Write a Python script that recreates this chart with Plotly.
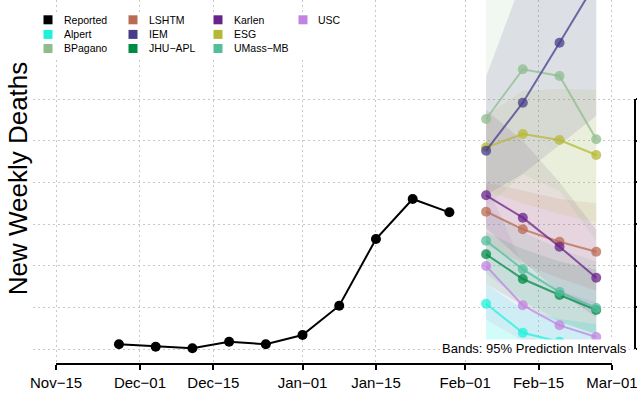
import plotly.graph_objects as go

# ---------------- data ----------------
reported_dates = ["2021-11-27", "2021-12-04", "2021-12-11", "2021-12-18", "2021-12-25",
                  "2022-01-01", "2022-01-08", "2022-01-15", "2022-01-22", "2022-01-29"]
reported = [56, 28, 8, 88, 56, 168, 520, 1320, 1800, 1640]

forecast_dates = ["2022-02-05", "2022-02-12", "2022-02-19", "2022-02-26"]

models = ["Alpert", "USC", "JHU-APL", "UMass-MB", "LSHTM", "Karlen", "ESG", "BPagano", "IEM"]
colors = {
    "Reported": "#000000", "Alpert": "#1FF2DC", "BPagano": "#8FBC8F",
    "LSHTM": "#BA6B53", "IEM": "#473C8B", "JHU-APL": "#008B45",
    "Karlen": "#68228B", "ESG": "#B5B834", "UMass-MB": "#52BE9C", "USC": "#C084E0",
}

median = {
    "Alpert":   [544, 194, 88, 28],
    "USC":      [996, 524, 284, 144],
    "JHU-APL":  [1136, 840, 648, 468],
    "UMass-MB": [1300, 956, 684, 492],
    "LSHTM":    [1648, 1436, 1288, 1168],
    "Karlen":   [1844, 1576, 1228, 856],
    "ESG":      [2420, 2580, 2508, 2328],
    "BPagano":  [2760, 3356, 3276, 2516],
    "IEM":      [2380, 2956, 3676, 4404],
}
lower = {
    "Alpert":   [20, 0, 0, 0],
    "USC":      [350, 100, 20, 0],
    "JHU-APL":  [780, 520, 320, 180],
    "UMass-MB": [900, 580, 340, 170],
    "LSHTM":    [1250, 1020, 850, 700],
    "Karlen":   [1450, 1050, 680, 380],
    "ESG":      [1900, 1750, 1620, 1520],
    "BPagano":  [1700, 2100, 1900, 1300],
    "IEM":      [1850, 2100, 2450, 2800],
}
upper = {
    "Alpert":   [780, 480, 360, 300],
    "USC":      [1990, 1000, 700, 560],
    "JHU-APL":  [1400, 1200, 1050, 950],
    "UMass-MB": [1700, 1400, 1200, 1050],
    "LSHTM":    [2000, 1900, 1800, 1750],
    "Karlen":   [2870, 2500, 2000, 1430],
    "ESG":      [2800, 3100, 3120, 3110],
    "BPagano":  [5000, 5600, 5600, 5400],
    "IEM":      [3270, 4400, 5600, 6800],
}

x_tick_dates = ["2021-11-15", "2021-12-01", "2021-12-15", "2022-01-01",
                "2022-01-15", "2022-02-01", "2022-02-15", "2022-03-01"]
x_tick_labels = ["Nov\u221215", "Dec\u221201", "Dec\u221215", "Jan\u221201",
                 "Jan\u221215", "Feb\u221201", "Feb\u221215", "Mar\u221201"]
y_ticks = [0, 500, 1000, 1500, 2000, 2500, 3000]

legend_rows = [["Reported", "LSHTM", "Karlen", "USC"],
               ["Alpert", "IEM", "ESG"],
               ["BPagano", "JHU-APL", "UMass-MB"]]


def rgba(hex_color, a):
    h = hex_color.lstrip("#")
    return "rgba(%d,%d,%d,%.3f)" % (int(h[0:2], 16), int(h[2:4], 16), int(h[4:6], 16), a)


FONT = "Liberation Sans, Arial, Helvetica, sans-serif"
W, H = 637, 397
ML, MR, MT, MB = 33, 2, 0, 33
PW, PH = W - ML - MR, H - MT - MB


def px_x(p):
    return (p - ML) / PW


def px_y(p):
    return (H - MB - p) / PH


band_alpha = {m: 0.12 for m in models}
band_alpha["Alpert"] = 0.2

fig = go.Figure()

# prediction bands
for m in models:
    fig.add_trace(go.Scatter(
        x=forecast_dates + forecast_dates[::-1],
        y=upper[m] + lower[m][::-1],
        fill="toself", fillcolor=rgba(colors[m], band_alpha[m]),
        line=dict(width=0), mode="lines", hoverinfo="skip", showlegend=False,
    ))

# reported
fig.add_trace(go.Scatter(
    x=reported_dates, y=reported, mode="lines+markers", name="Reported",
    line=dict(color="black", width=2), marker=dict(color="black", size=10),
    showlegend=False,
))

# forecast medians
for m in models:
    fig.add_trace(go.Scatter(
        x=forecast_dates, y=median[m], mode="lines+markers", name=m,
        line=dict(color=rgba(colors[m], 0.75), width=2),
        marker=dict(color=rgba(colors[m], 0.75), size=10),
        showlegend=False,
    ))

shapes = []
annotations = []

# x axis line from first to last tick
shapes.append(dict(type="line", xref="x", yref="paper", x0=x_tick_dates[0], x1=x_tick_dates[-1],
                   y0=0, y1=0, line=dict(color="black", width=2)))
# right y axis line from first to last tick
shapes.append(dict(type="line", xref="paper", yref="y", x0=1, x1=1,
                   y0=y_ticks[0], y1=y_ticks[-1], line=dict(color="black", width=2)))

# legend box + entries
shapes.append(dict(type="rect", xref="paper", yref="paper",
                   x0=px_x(38), x1=px_x(345), y0=px_y(57), y1=px_y(12),
                   fillcolor="white", line=dict(width=0), layer="above"))
col_sq = [48, 133, 218, 303]
col_tx = [62, 146.5, 231.5, 316]
row_y = [19.8, 34.4, 48.5]
for r, row in enumerate(legend_rows):
    for c, name in enumerate(row):
        shapes.append(dict(type="rect", xref="paper", yref="paper",
                           x0=px_x(col_sq[c] - 4.5), x1=px_x(col_sq[c] + 4.5),
                           y0=px_y(row_y[r] + 4.5), y1=px_y(row_y[r] - 4.5),
                           fillcolor=colors[name], line=dict(width=0), layer="above"))
        annotations.append(dict(xref="paper", yref="paper", x=px_x(col_tx[c]), y=px_y(row_y[r]),
                                text=name.replace("-", "\u2212"), showarrow=False,
                                xanchor="left", yanchor="middle",
                                font=dict(family=FONT, size=10.5, color="black")))

# y title
annotations.append(dict(xref="paper", yref="paper", x=px_x(18), y=px_y(178.3),
                        text="New Weekly Deaths", textangle=-90, showarrow=False,
                        xanchor="center", yanchor="middle",
                        font=dict(family=FONT, size=26, color="black")))

# bands note
annotations.append(dict(xref="paper", yref="paper", x=px_x(629), y=px_y(348.3),
                        text="Bands: 95% Prediction Intervals", showarrow=False,
                        xanchor="right", yanchor="middle", bgcolor="white", borderpad=1,
                        font=dict(family=FONT, size=13, color="black")))

fig.update_layout(
    width=W, height=H,
    margin=dict(l=ML, r=MR, t=MT, b=MB),
    paper_bgcolor="white", plot_bgcolor="white",
    showlegend=False,
    font=dict(family=FONT, color="black"),
    shapes=shapes, annotations=annotations,
    xaxis=dict(
        type="date", range=["2021-11-10 14:38", "2022-03-05 09:22"],
        tickmode="array", tickvals=x_tick_dates, ticktext=x_tick_labels,
        ticks="outside", ticklen=5, tickwidth=2, tickcolor="black",
        tickfont=dict(family=FONT, size=15, color="black"),
        ticklabeloverflow="allow",
        showline=False, zeroline=False, automargin=False,
        showgrid=True, gridcolor="#C8C8C8", griddash="2px,3px", gridwidth=1,
    ),
    yaxis=dict(
        side="right", range=[-180, 4188],
        tickmode="array", tickvals=y_ticks,
        ticks="outside", ticklen=5, tickwidth=2, tickcolor="black",
        showticklabels=False, showline=False, zeroline=False, automargin=False,
        showgrid=True, gridcolor="#C8C8C8", griddash="2px,3px", gridwidth=1,
    ),
)

fig.write_html(
    "out.html",
    config={"displayModeBar": False},
    post_script="document.body.style.margin='0px';document.body.style.padding='0px';"
                "document.body.style.overflow='hidden';",
)
